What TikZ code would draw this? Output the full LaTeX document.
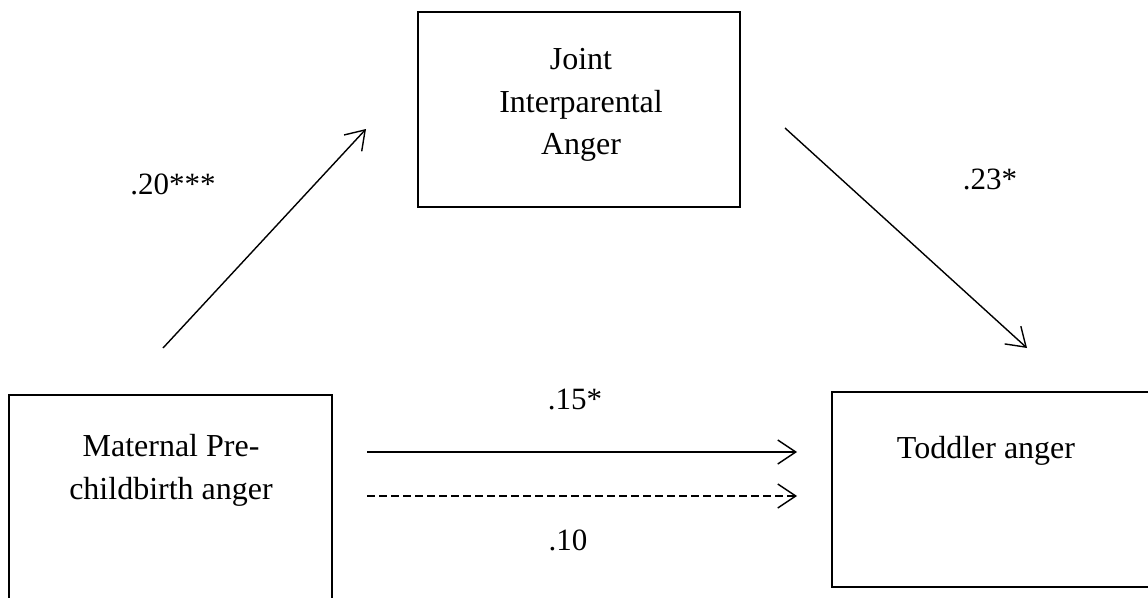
\documentclass[tikz,border=0pt]{standalone}
\usepackage{fontspec}
\setmainfont{Liberation Serif}
\usetikzlibrary{arrows.meta}
\usetikzlibrary{positioning}
\tikzstyle{varbox}  = [draw=black, line width=1.7pt, inner sep=0pt]
\tikzstyle{vartext} = [align=center, inner sep=0pt, font=\fontsize{32}{42.5}\selectfont]
\tikzstyle{coef}    = [inner sep=0pt, font=\fontsize{31}{37}\selectfont]
\tikzstyle{arrow}   = [line width=1.4pt, -{Straight Barb[length=18pt,width=24pt]}]

\begin{document}
\begin{tikzpicture}[x=1pt, y=-1pt]
      \useasboundingbox (0,0) rectangle (1148,597);
      % Mediator
      \node[varbox, minimum width=322pt, minimum height=195pt] (joint) at (579,109.5) {};
      \node[vartext] (jointtxt) at (581,105) {Joint\\Interparental\\Anger};
      % Predictor
      \node[varbox, minimum width=323pt, minimum height=207pt] (mat) at (170.5,498.5) {};
      \node[vartext] (mattxt) at (171,470.5) {Maternal Pre-\\childbirth anger};
      % Outcome
      \node[varbox, minimum width=328pt, minimum height=195pt] (tod) at (996,489.5) {};
      \node[vartext] (todtxt) at (986,451) {Toddler anger};
      % Arrow ends
      \coordinate (ajs) at (163,348);
      \coordinate (aje) at (366,129);
      \coordinate (ats) at (785,128);
      \coordinate (ate) at (1027,348);
      \coordinate (cs) at (367,452);
      \coordinate (ce) at (797,452);
      \coordinate (ds) at (367,496);
      \coordinate (de) at (797,496);
      \draw[arrow] (ajs) -- (aje);
      \draw[arrow] (ats) -- (ate);
      \draw[arrow] (cs) -- (ce);
      \draw[arrow, dash pattern=on 8pt off 4pt] (ds) -- (de);
      % Coefficients
      \node[coef] (pa) at (173,184) {.20***};
      \node[coef] (pb) at (990,179) {.23*};
      \node[coef] (pc) at (575,399) {.15*};
      \node[coef] (pd) at (568,540) {.10};
    \end{tikzpicture}
\end{document}
